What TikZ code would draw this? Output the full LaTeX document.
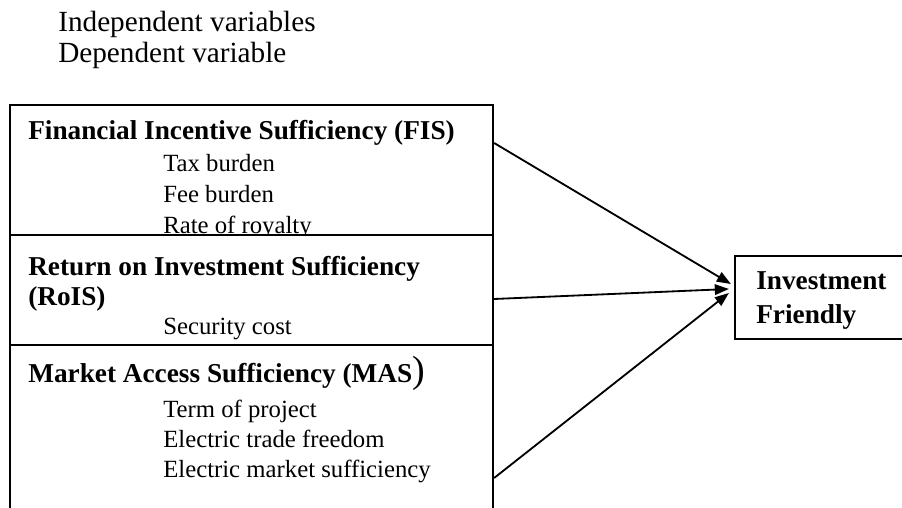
\documentclass[tikz,border=0pt]{standalone}
\usepackage{fontspec}
\setmainfont{Liberation Serif}
\usetikzlibrary{arrows.meta, positioning}

\begin{document}
\begin{tikzpicture}[
    varbox/.style={draw, line width=1.6pt, fill=white, inner sep=0pt},
    txt/.style={anchor=base west, inner sep=0pt, font=\fontsize{17.6}{21}\selectfont},
    lgd/.style={txt, font=\fontsize{20.8}{24}\selectfont},
    hd/.style={txt, font=\fontsize{19.4}{22}\selectfont\bfseries},
    link/.style={line width=1.3pt, -{Triangle[length=10pt,width=7.5pt]}}
]
    \useasboundingbox (0,0) rectangle (22.55,12.675);

    % legend lines
    \node[lgd](indep) at (1.45,11.875) {Independent variables};
    \node[lgd](dep) at (1.45,11.1) {Dependent variable};

    % FIS block
    \node[varbox, minimum width=12.075cm, minimum height=3.25cm](fis) at (6.2875,8.425) {};
    \node[hd](fistitle) at (0.7,9.175) {Financial Incentive Sufficiency (FIS)};
    \node[txt](tax) at (4.075,8.375) {Tax burden};
    \node[txt](fee) at (4.075,7.6) {Fee burden};
    \node[txt](roy) at (4.075,6.825) {Rate of royalty};

    % RoIS block (covers the bottom of the line above)
    \node[varbox, minimum width=12.075cm, minimum height=2.75cm](rois) at (6.2875,5.425) {};
    \node[hd](roistitle) at (0.7,5.775) {Return on Investment Sufficiency};
    \node[hd](roisabbr) at (0.7,5.025) {(RoIS)};
    \node[txt](sec) at (4.075,4.3) {Security cost};

    % MAS block
    \node[varbox, minimum width=12.075cm, minimum height=4.55cm](mas) at (6.2875,1.775) {};
    \node[hd](mastitle) at (0.7,3.1) {Market Access Sufficiency (MAS{\normalfont\fontsize{27}{27}\selectfont)}};
    \node[txt](term) at (4.075,2.225) {Term of project};
    \node[txt](trade) at (4.075,1.475) {Electric trade freedom};
    \node[txt](market) at (4.075,0.725) {Electric market sufficiency};

    % dependent variable
    \node[varbox, minimum width=4.625cm, minimum height=2.075cm](ifr) at (20.6875,5.2375) {};
    \node[hd](inv) at (18.9,5.425) {Investment};
    \node[hd](fr) at (18.9,4.575) {Friendly};

    \draw[link] ([yshift=0.675cm]fis.east) -- ([shift={(-0.075,0.3375)}]ifr.west);
    \draw[link] ([yshift=-0.225cm]rois.east) -- ([shift={(-0.125,0.2125)}]ifr.west);
    \draw[link] ([yshift=-1.05cm]mas.east) -- ([shift={(-0.125,0.1125)}]ifr.west);
\end{tikzpicture}
\end{document}
